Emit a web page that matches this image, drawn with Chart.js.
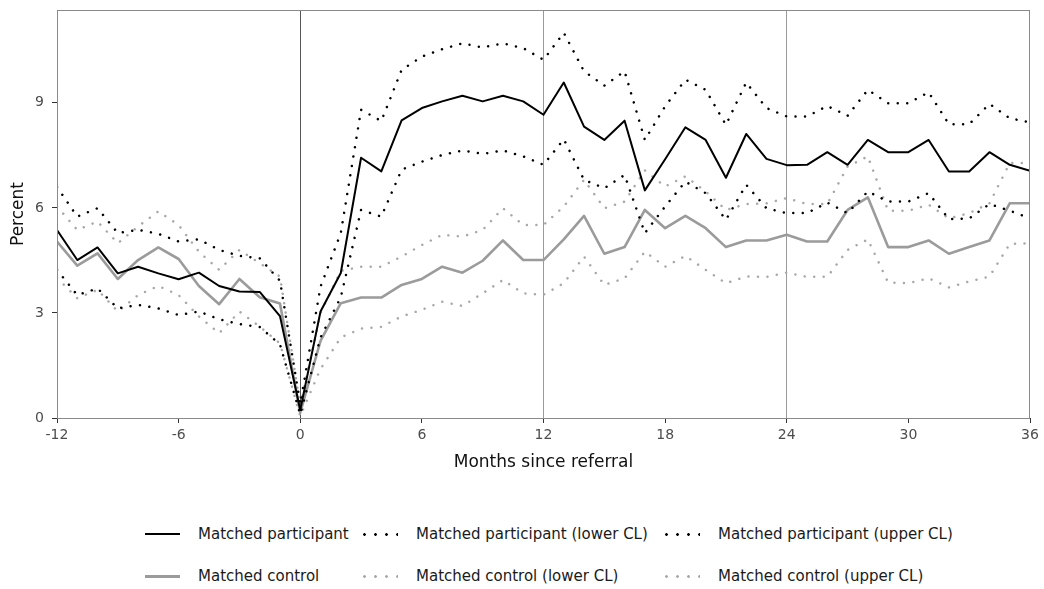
<!DOCTYPE html>
<html>
<head>
<meta charset="utf-8">
<script src="https://cdn.jsdelivr.net/npm/chart.js@4"></script>
<style>
  html, body { margin: 0; padding: 0; background: #fff; }
  #wrap { position: relative; width: 1044px; height: 589px; overflow: hidden; font-family: "DejaVu Sans", sans-serif; }
  #chart { position: absolute; left: 0; top: 0; }
  #legend {
    position: absolute; left: 145px; top: 513px;
    display: grid; grid-template-columns: 218px 302px auto; grid-auto-rows: 42px;
    font-size: 15px; color: #1a1a1a;
  }
  .item { display: flex; align-items: center; white-space: nowrap; }
  .key { display: inline-block; width: 35px; margin-right: 18px; }
  .key.solid { height: 2px; }
  .key.dot { height: 3px; background-size: 11px 3px; background-position: -4px 0; background-repeat: repeat-x; }
</style>
</head>
<body>
<div id="wrap">
  <canvas id="chart" width="1044" height="480"></canvas>
  <div id="legend"></div>
</div>
<script>
(function () {
  const months = [-12, -11, -10, -9, -8, -7, -6, -5, -4, -3, -2, -1, 0, 1, 2, 3, 4, 5, 6, 7, 8, 9, 10, 11, 12, 13, 14, 15, 16, 17, 18, 19, 20, 21, 22, 23, 24, 25, 26, 27, 28, 29, 30, 31, 32, 33, 34, 35, 36];
  const xTickValues = [-12, -6, 0, 6, 12, 18, 24, 30, 36];
  const yTickValues = [0, 3, 6, 9];

  const participant = [5.37, 4.51, 4.87, 4.13, 4.32, 4.13, 3.96, 4.15, 3.77, 3.61, 3.6, 2.91, 0.23,
    3.04, 4.14, 7.43, 7.04, 8.5, 8.85, 9.04, 9.2, 9.04, 9.2, 9.04, 8.66,
    9.58, 8.32, 7.94, 8.49, 6.5, 7.39, 8.3, 7.94, 6.86, 8.11, 7.4, 7.22,
    7.23, 7.59, 7.23, 7.94, 7.59, 7.59, 7.94, 7.04, 7.04, 7.59, 7.23, 7.06];
  const participantLower = [4.23, 3.51, 3.7, 3.13, 3.23, 3.13, 2.94, 3.04, 2.82, 2.68, 2.6, 2.1, 0.1,
    2.3, 3.45, 5.94, 5.75, 7.09, 7.32, 7.51, 7.64, 7.54, 7.64, 7.47, 7.23,
    7.96, 6.8, 6.56, 6.94, 5.28, 6.04, 6.75, 6.42, 5.66, 6.66, 5.99, 5.85,
    5.85, 6.15, 5.85, 6.47, 6.18, 6.18, 6.42, 5.68, 5.7, 6.11, 5.92, 5.7];
  const participantUpper = [6.6, 5.75, 5.99, 5.28, 5.37, 5.26, 5.04, 5.1, 4.8, 4.63, 4.56, 3.92, 0.4,
    3.75, 5.28, 8.8, 8.48, 9.94, 10.32, 10.53, 10.7, 10.58, 10.7, 10.56, 10.23,
    11.0, 9.9, 9.49, 9.9, 7.94, 8.9, 9.66, 9.37, 8.37, 9.58, 8.85, 8.61,
    8.61, 8.91, 8.63, 9.37, 8.99, 8.99, 9.3, 8.39, 8.39, 8.97, 8.56, 8.44];
  const control = [5.04, 4.35, 4.7, 3.97, 4.51, 4.87, 4.54, 3.77, 3.25, 3.97, 3.45, 3.27, 0.15,
    2.2, 3.28, 3.44, 3.44, 3.8, 3.97, 4.32, 4.15, 4.49, 5.07, 4.51, 4.51,
    5.1, 5.77, 4.69, 4.88, 5.94, 5.42, 5.77, 5.42, 4.88, 5.07, 5.07, 5.23,
    5.04, 5.04, 5.94, 6.3, 4.88, 4.88, 5.07, 4.69, 4.88, 5.07, 6.13, 6.13];
  const controlLower = [4.0, 3.42, 3.66, 3.04, 3.51, 3.77, 3.51, 2.9, 2.42, 3.04, 2.61, 2.13, 0.05,
    1.4, 2.3, 2.55, 2.6, 2.9, 3.09, 3.32, 3.2, 3.56, 3.94, 3.56, 3.52,
    3.85, 4.61, 3.8, 3.99, 4.75, 4.32, 4.63, 4.23, 3.85, 4.04, 4.03, 4.15,
    4.03, 4.03, 4.8, 5.1, 3.87, 3.85, 3.99, 3.73, 3.9, 4.04, 4.97, 4.99];
  const controlUpper = [6.04, 5.37, 5.61, 4.99, 5.47, 5.9, 5.51, 4.75, 4.23, 4.8, 4.42, 4.04, 0.35,
    3.0, 4.2, 4.32, 4.32, 4.61, 4.94, 5.23, 5.18, 5.37, 5.99, 5.51, 5.51,
    6.04, 6.8, 5.99, 6.18, 7.07, 6.61, 6.9, 6.47, 5.94, 6.11, 6.13, 6.28,
    6.11, 6.11, 7.18, 7.47, 5.92, 5.92, 6.09, 5.7, 5.85, 6.13, 7.28, 7.28];

  const BLACK = "#000000";
  const GREY = "#9b9b9b";
  const GREY_DOT = "#a8a8a8";
  const FONT = "'DejaVu Sans', sans-serif";

  const series = [
    { label: "Matched participant", values: participant, color: BLACK, width: 2, dotted: false },
    { label: "Matched participant (lower CL)", values: participantLower, color: BLACK, width: 2.5, dotted: true },
    { label: "Matched participant (upper CL)", values: participantUpper, color: BLACK, width: 2.5, dotted: true },
    { label: "Matched control", values: control, color: GREY, width: 2.6, dotted: false },
    { label: "Matched control (lower CL)", values: controlLower, color: GREY_DOT, width: 2.5, dotted: true },
    { label: "Matched control (upper CL)", values: controlUpper, color: GREY_DOT, width: 2.5, dotted: true }
  ];

  function toPoints(values) {
    return months.map((m, i) => ({ x: m, y: values[i] }));
  }

  // panel border drawn over everything, like ggplot's panel.border
  const panelFrame = {
    id: "panelFrame",
    afterDatasetsDraw(chart) {
      const { ctx, chartArea: a } = chart;
      ctx.save();
      ctx.strokeStyle = "#8a8a8a";
      ctx.lineWidth = 1;
      ctx.strokeRect(Math.round(a.left) + 0.5, Math.round(a.top) + 0.5, Math.round(a.right - a.left) - 1, Math.round(a.bottom - a.top));
      ctx.restore();
    }
  };

  new Chart(document.getElementById("chart"), {
    type: "line",
    data: {
      datasets: series.map((s) => ({
        label: s.label,
        data: toPoints(s.values),
        borderColor: s.color,
        borderWidth: s.width,
        borderDash: s.dotted ? [0.01, 9.5] : [],
        borderCapStyle: s.dotted ? "round" : "butt",
        borderJoinStyle: "round",
        pointRadius: 0,
        tension: 0,
        fill: false
      }))
    },
    options: {
      responsive: false,
      animation: false,
      devicePixelRatio: 1,
      layout: { padding: { top: 10, right: 14, left: 0, bottom: 0 } },
      plugins: { legend: { display: false }, tooltip: { enabled: false } },
      scales: {
        x: {
          type: "linear",
          min: -12,
          max: 36,
          afterBuildTicks: (scale) => { scale.ticks = xTickValues.map((v) => ({ value: v })); },
          afterFit: (scale) => { scale.height = 62; },
          ticks: { color: "#4d4d4d", font: { family: FONT, size: 14 }, padding: 4, maxRotation: 0, autoSkip: false },
          grid: {
            color: (c) => {
              const v = c.tick && c.tick.value;
              if (v === 0) return "#555555";
              if (v === 12 || v === 24) return "#9a9a9a";
              return "rgba(0,0,0,0)";
            },
            tickColor: "#333333",
            tickLength: 5,
            lineWidth: 1
          },
          border: { display: false },
          title: { display: true, text: "Months since referral", color: "#111", font: { family: FONT, size: 17 }, padding: { top: 0, bottom: 7 } }
        },
        y: {
          min: 0,
          max: 11.65,
          afterBuildTicks: (scale) => { scale.ticks = yTickValues.map((v) => ({ value: v })); },
          afterFit: (scale) => {
            scale.width = 57;
            scale.paddingTop = 0;
            scale.paddingBottom = 0;
          },
          ticks: { color: "#4d4d4d", font: { family: FONT, size: 14 }, padding: 8 },
          grid: { drawOnChartArea: false, tickColor: "#333333", tickLength: 5 },
          border: { display: false },
          title: { display: true, text: "Percent", color: "#111", font: { family: FONT, size: 17 }, padding: { top: 8, bottom: 0 } }
        }
      }
    },
    plugins: [panelFrame]
  });

  // legend laid out in three columns, two rows, like the original
  const legend = document.getElementById("legend");
  series.forEach((s) => {
    const item = document.createElement("div");
    item.className = "item";
    const key = document.createElement("span");
    if (s.dotted) {
      key.className = "key dot";
      key.style.backgroundImage = `radial-gradient(circle, ${s.color} 1.1px, rgba(255,255,255,0) 1.6px)`;
    } else {
      key.className = "key solid";
      key.style.background = s.color;
      key.style.height = s.width > 2 ? "3px" : "2px";
    }
    const text = document.createElement("span");
    text.textContent = s.label;
    item.appendChild(key);
    item.appendChild(text);
    legend.appendChild(item);
  });
}());
</script>
</body>
</html>
